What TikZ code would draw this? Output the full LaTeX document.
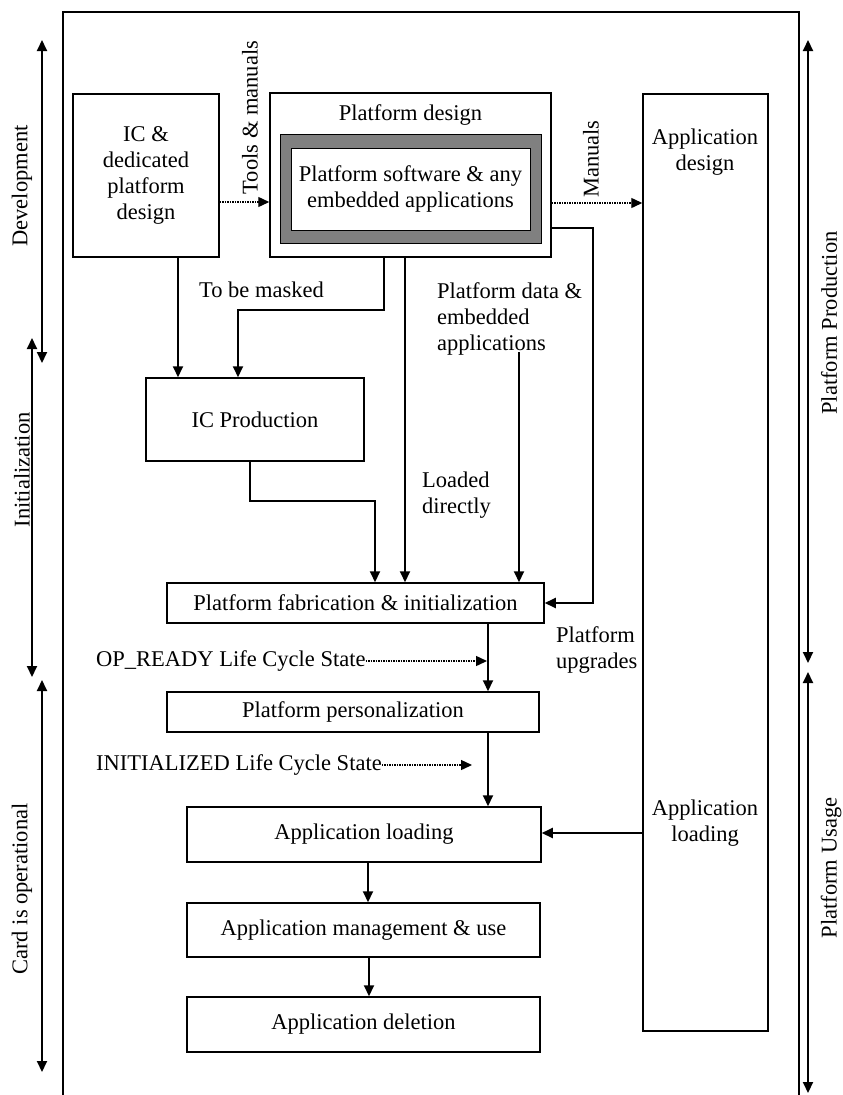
\documentclass[tikz,border=0pt]{standalone}
\usepackage{fontspec}
\setmainfont{Liberation Serif}
\usetikzlibrary{arrows.meta,positioning}

\begin{document}
\begin{tikzpicture}[x=1pt,y=-1pt,
  every node/.style={font=\fontsize{22.5}{26}\selectfont},
  stagebox/.style={draw,line width=1.5pt,inner sep=0pt,align=center},
  flow/.style={line width=2pt,-{Triangle[length=11pt,width=10pt]}},
  doc/.style={line width=1.4pt,dash pattern=on 1.3pt off 1.2pt,-{Triangle[length=11pt,width=10pt]}},
  span/.style={line width=2pt,{Triangle[length=11pt,width=10pt]}-{Triangle[length=11pt,width=10pt]}},
  note/.style={align=left,inner sep=0pt}]
  \useasboundingbox (0,0) rectangle (843,1095);

  % outer frame
  \draw[line width=1.5pt] (63,1095) |- (799,12) -- (799,1095);

  % phases (left)
  \draw[span] (42,40) -- (42,363);
  \node[rotate=90] at (22,186) {Development};
  \draw[span] (32,338) -- (32,677);
  \node[rotate=90] at (22,470) {Initialization};
  \draw[span] (42,680) -- (42,1072);
  \node[rotate=90] at (22,889) {Card is operational};

  % phases (right)
  \draw[span] (808,40) -- (808,663);
  \node[rotate=90] at (829,323) {Platform Production};
  \draw[span] (808,672) -- (808,1093);
  \node[rotate=90] at (831,868) {Platform Usage};

  % design stage
  \node[stagebox,minimum width=146pt,minimum height=163pt] (icdesign) at (146,175.5)
    {IC \&\\dedicated\\platform\\design};
  \node[stagebox,minimum width=281pt,minimum height=164pt] (pdesign) at (410.5,175) {};
  \node (pdtitle) at (410.5,115) {Platform design};
  \node[draw,line width=1pt,fill=gray,minimum width=261pt,minimum height=109pt] (pdframe) at (410.5,188.5) {};
  \node[draw,line width=1pt,fill=white,inner sep=0pt,align=center,
        minimum width=239pt,minimum height=82pt] (pdsoft) at (410.5,189)
    {Platform software \& any\\embedded applications};
  \node[stagebox,minimum width=125pt,minimum height=937pt] (appdev) at (705.5,562.5) {};
  \node[align=center] (apdesign) at (705,152) {Application\\design};
  \node[align=center] (aploadlbl) at (705,823) {Application\\loading};

  % production stages
  \node[stagebox,minimum width=218pt,minimum height=83pt] (icprod) at (255,419.5) {IC Production};
  \node[stagebox,minimum width=377pt,minimum height=40pt] (fab) at (355.5,603)
    {Platform fabrication \& initialization};
  \node[stagebox,minimum width=372pt,minimum height=40pt] (perso) at (353,712)
    {Platform personalization};
  \node[stagebox,minimum width=354pt,minimum height=55pt] (apload) at (364,834.5)
    {Application loading};
  \node[stagebox,minimum width=353pt,minimum height=54pt] (apmgmt) at (363.5,930)
    {Application management \& use};
  \node[stagebox,minimum width=353pt,minimum height=55pt] (apdel) at (363.5,1024.5)
    {Application deletion};

  % labels
  \node[rotate=90] (toolslbl) at (250,117.5) {Tools \& manuals};
  \node[rotate=90] (manlbl) at (591,159) {Manuals};
  \node[note,anchor=west] (masklbl) at (199,290) {To be masked};
  \node[note,anchor=west] (pdatalbl) at (437,319) {Platform data \&\\embedded\\applications};
  \node[note,anchor=west] (directlbl) at (422,495) {Loaded\\directly};
  \node[note,anchor=west] (upglbl) at (556,650) {Platform\\upgrades};
  \node[note,anchor=west] (opready) at (96,661) {OP\_READY Life Cycle State};
  \node[note,anchor=west] (initst) at (96,765) {INITIALIZED Life Cycle State};
  \coordinate (pdstart) at (519,352);
  \coordinate (opend) at (487,661);
  \coordinate (initend) at (472,765);

  % documents
  \draw[doc] (icdesign.east |- 0,202) -- (pdesign.west |- 0,202);
  \draw[doc] (pdesign.east |- 0,203) -- (appdev.west |- 0,203);
  \draw[doc] (opready.east) -- (opend);
  \draw[doc] (initst.east) -- (initend);

  % flows
  \draw[flow] (icdesign.south -| 178,0) -- (icprod.north -| 178,0);
  \draw[flow] (pdesign.south -| 384,0) |- (238,310) -- (icprod.north -| 238,0);
  \draw[flow] (pdesign.south -| 405,0) -- (fab.north -| 405,0);
  \draw[flow] (pdstart) -- (fab.north -| pdstart);
  \draw[flow] (icprod.south -| 250,0) |- (375,501) -- (fab.north -| 375,0);
  \draw[flow] (pdesign.east |- 0,228) -| (593,603) -- (fab.east);
  \draw[flow] (fab.south -| 488,0) -- (perso.north -| 488,0);
  \draw[flow] (perso.south -| 488,0) -- (apload.north -| 488,0);
  \draw[flow] (appdev.west |- 0,833) -- (apload.east |- 0,833);
  \draw[flow] (apload.south -| 368,0) -- (apmgmt.north -| 368,0);
  \draw[flow] (apmgmt.south -| 369,0) -- (apdel.north -| 369,0);
\end{tikzpicture}
\end{document}
